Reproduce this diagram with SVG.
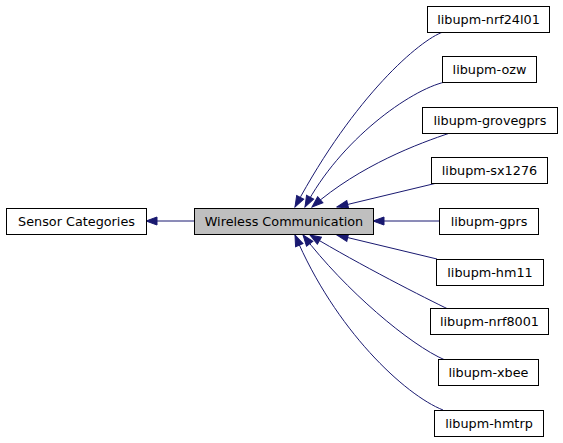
<svg xmlns="http://www.w3.org/2000/svg" width="563" height="443" viewBox="0 0 563 443">
<defs>
<style>
.box{fill:#ffffff;stroke:#000000;stroke-width:1}
.cur{fill:#bfbfbf;stroke:#000000;stroke-width:1}
.lbl{font-family:"DejaVu Sans",sans-serif;font-size:12.8px;fill:#000000;text-anchor:middle}
.edge{fill:none;stroke:#191970;stroke-width:1}
</style>
<marker id="arr" markerUnits="userSpaceOnUse" markerWidth="13" markerHeight="10" refX="12" refY="5" orient="auto" viewBox="0 0 13 10">
<path d="M1,1 L12,5 L1,9 z" fill="#191970" stroke="#191970" stroke-width="1"/>
</marker>
</defs>
<rect width="563" height="443" fill="#ffffff"/>
<g id="connectors">
<path class="edge" marker-end="url(#arr)" d="M194,221 L146,221"/>
<path class="edge" marker-end="url(#arr)" d="M443,32 C420,40 355,95 295,207"/>
<path class="edge" marker-end="url(#arr)" d="M445,82 C410,90 340,140 305,207"/>
<path class="edge" marker-end="url(#arr)" d="M450,133 C420,143 360,165 312,207"/>
<path class="edge" marker-end="url(#arr)" d="M437,183 L337,207"/>
<path class="edge" marker-end="url(#arr)" d="M439,221 L373,221"/>
<path class="edge" marker-end="url(#arr)" d="M437,259 L337,235"/>
<path class="edge" marker-end="url(#arr)" d="M450,310 C425,298 360,265 310,235"/>
<path class="edge" marker-end="url(#arr)" d="M445,360 C410,345 345,290 303,235"/>
<path class="edge" marker-end="url(#arr)" d="M443,410 C405,395 335,330 295,235"/>
</g>
<g id="sensor-categories"><rect class="box" x="6.5" y="208.5" width="140" height="26"/><text class="lbl" x="76.5" y="225.5">Sensor Categories</text></g>
<g id="wireless-communication"><rect class="cur" x="194.5" y="208.5" width="179" height="26"/><text class="lbl" x="284" y="225.5">Wireless Communication</text></g>
<g id="libupm-nrf24l01"><rect class="box" x="427.5" y="6.5" width="122" height="26"/><text class="lbl" x="488.5" y="23.5">libupm-nrf24l01</text></g>
<g id="libupm-ozw"><rect class="box" x="442.5" y="56.5" width="94" height="26"/><text class="lbl" x="489.5" y="73.5">libupm-ozw</text></g>
<g id="libupm-grovegprs"><rect class="box" x="422.5" y="107.5" width="135" height="26"/><text class="lbl" x="490" y="124.5">libupm-grovegprs</text></g>
<g id="libupm-sx1276"><rect class="box" x="431.5" y="157.5" width="116" height="26"/><text class="lbl" x="489.5" y="174.5">libupm-sx1276</text></g>
<g id="libupm-gprs"><rect class="box" x="439.5" y="208.5" width="99" height="26"/><text class="lbl" x="489" y="225.5">libupm-gprs</text></g>
<g id="libupm-hm11"><rect class="box" x="436.5" y="259.5" width="107" height="26"/><text class="lbl" x="490" y="276.5">libupm-hm11</text></g>
<g id="libupm-nrf8001"><rect class="box" x="430.5" y="308.5" width="118" height="26"/><text class="lbl" x="489.5" y="325.5">libupm-nrf8001</text></g>
<g id="libupm-xbee"><rect class="box" x="438.5" y="359.5" width="100" height="26"/><text class="lbl" x="488.5" y="376.5">libupm-xbee</text></g>
<g id="libupm-hmtrp"><rect class="box" x="434.5" y="410.5" width="109" height="26"/><text class="lbl" x="489" y="427.5">libupm-hmtrp</text></g>
</svg>
